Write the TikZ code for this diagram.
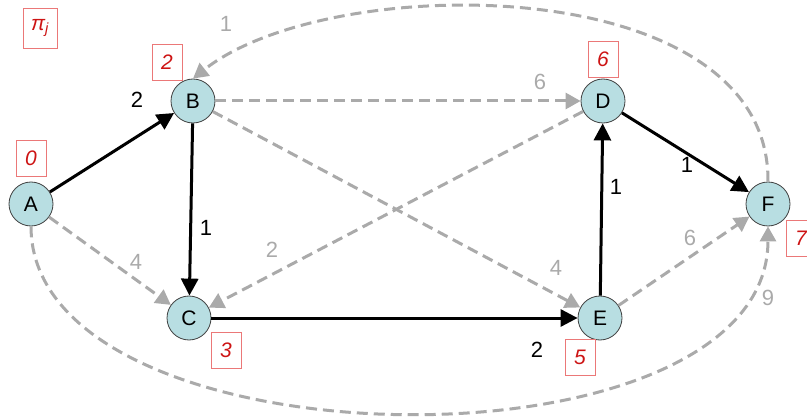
\documentclass[tikz,border=0pt]{standalone}
\usepackage{fontspec}
\setmainfont{Liberation Sans}
\usetikzlibrary{arrows.meta}
\definecolor{nodefill}{RGB}{184,222,226}
\definecolor{edgegray}{RGB}{170,170,170}
\definecolor{numred}{RGB}{205,20,20}
\definecolor{boxred}{RGB}{235,120,120}
\begin{document}
\begin{tikzpicture}[x=1pt,y=-1pt,
 vert/.style={circle,draw=black!75,line width=0.8pt,fill=nodefill,minimum size=44pt,inner sep=0pt,font=\fontsize{21}{21}\selectfont},
 tree/.style={line width=3pt,-{Triangle[length=17pt,width=17pt]}},
 alt/.style={line width=3pt,draw=edgegray,dash pattern=on 11pt off 6pt,-{Triangle[length=15pt,width=16pt,fill=edgegray]}},
 dist/.style={draw=boxred,line width=0.7pt,minimum width=30pt,minimum height=36pt,inner sep=0pt,text=numred,font=\fontsize{21}{21}\selectfont\itshape},
 wl/.style={font=\fontsize{22}{22}\selectfont,text=black},
 gl/.style={font=\fontsize{22}{22}\selectfont,text=edgegray}]
\useasboundingbox (0,0) rectangle (807,417);
% vertices
\node[vert] (A) at (31,204) {A};
\node[vert] (B) at (193,101) {B};
\node[vert] (C) at (189,318) {C};
\node[vert] (D) at (603,101) {D};
\node[vert] (E) at (600,318) {E};
\node[vert] (F) at (768,204) {F};
% distance boxes
\node[dist,minimum width=34pt,minimum height=40pt] (pi) at (40,28) {π\textsubscript{j}};
\node[dist] (dA) at (31,158) {0};
\node[dist] (dB) at (167,62) {2};
\node[dist] (dC) at (226,350) {3};
\node[dist] (dD) at (603,59) {6};
\node[dist] (dE) at (580,357) {5};
\node[dist] (dF) at (801,238) {7};
% gray (non-tree) edges
\draw[alt] (A) -- (C);
\draw[alt] (B) -- (D);
\draw[alt] (B) -- (E);
\draw[alt] (D) -- (C);
\draw[alt] (E) -- (F);
\draw[alt] (A.south) .. controls (31,470) and (768,480) .. (F.south);
\draw[alt] (F.north) .. controls (770,-30) and (330,-30) .. (B.north);
% tree edges
\draw[tree] (A) -- (B);
\draw[tree] (B) -- (C);
\draw[tree] (C) -- (E);
\draw[tree] (E) -- (D);
\draw[tree] (D) -- (F);
% weights
\node[wl] (wAB) at (137,100) {2};
\node[wl] (wBC) at (206,228) {1};
\node[wl] (wCE) at (537,350) {2};
\node[wl] (wED) at (616,187) {1};
\node[wl] (wDF) at (687,165) {1};
\node[gl] (wAC) at (136,262) {4};
\node[gl] (wBD) at (540,82) {6};
\node[gl] (wBE) at (556,268) {4};
\node[gl] (wDC) at (272,250) {2};
\node[gl] (wEF) at (690,238) {6};
\node[gl] (wAF) at (768,298) {9};
\node[gl] (wFB) at (226,24) {1};
\end{tikzpicture}
\end{document}
